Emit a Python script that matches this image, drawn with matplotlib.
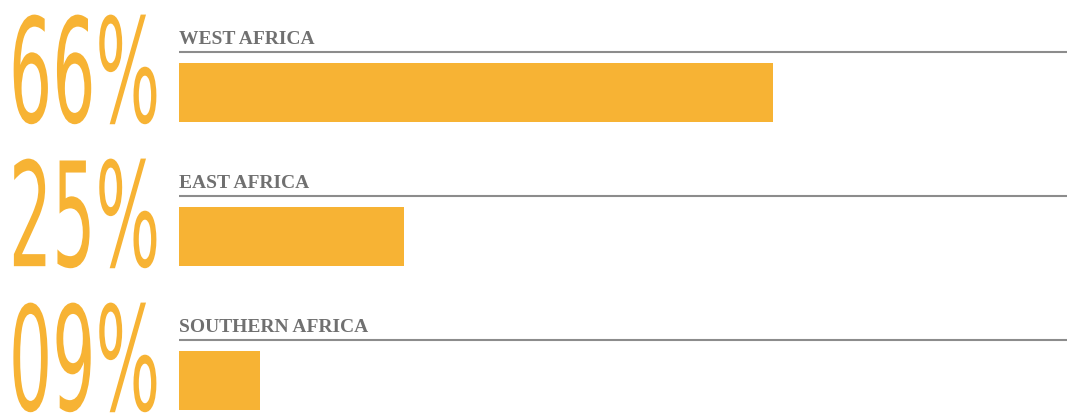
import matplotlib
matplotlib.use("Agg")
import matplotlib.pyplot as plt
from matplotlib.patheffects import AbstractPathEffect
from matplotlib.transforms import Affine2D

regions = ["WEST AFRICA", "EAST AFRICA", "SOUTHERN AFRICA"]
shares = [66, 25, 9]

ORANGE = "#F7B334"
GREY_LINE = "#8C8C8C"
GREY_TEXT = "#707070"


class Stretch(AbstractPathEffect):
    """Pull the glyphs down from their top edge to get a tall, condensed look."""

    def __init__(self, sy):
        super().__init__()
        self.sy = sy

    def draw_path(self, renderer, gc, tpath, affine, rgbFace=None):
        y_top = tpath.get_extents(affine).y1
        tall = Affine2D().translate(0, -y_top).scale(1, self.sy).translate(0, y_top)
        renderer.draw_path(gc, tpath, affine + tall, rgbFace)


W, H = 1067, 414
fig = plt.figure(figsize=(W / 100, H / 100), dpi=100)
left = 179 / W
ax = fig.add_axes([left, 0, 1 - left, 1])
ax.set_xlim(0, (W - 179) / 9)
ax.set_ylim(2.226, -0.649)
ax.axis("off")

rows = range(len(regions))
ax.barh(rows, shares, height=0.41, color=ORANGE, align="center")

for i, (name, val) in enumerate(zip(regions, shares)):
    ax.hlines(i - 0.283, 0, ax.get_xlim()[1], color=GREY_LINE, lw=1.5)
    ax.text(0, i - 0.343, name, fontsize=14, family="Liberation Serif",
            weight="bold", color=GREY_TEXT, va="baseline", ha="left")
    ax.text(-18.9, i - 0.19, "%02d%%" % val, fontsize=49,
            family="DejaVu Sans", color=ORANGE, va="baseline", ha="left",
            clip_on=False, path_effects=[Stretch(2.13)])

fig.savefig("out.png", dpi=100)
